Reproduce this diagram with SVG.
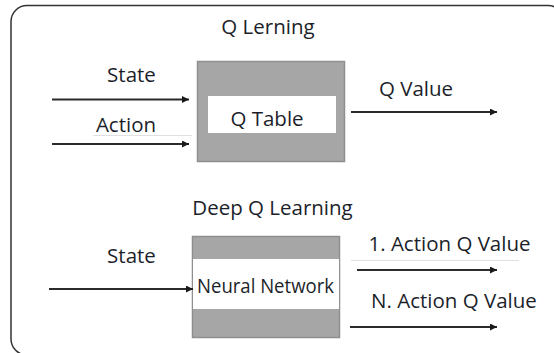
<svg xmlns="http://www.w3.org/2000/svg" width="554" height="353" viewBox="0 0 554 353">
  <style>
    .t { font-family: "Open Sans", "Liberation Sans", sans-serif; font-size: 20.5px; fill: #1c1f2a; text-anchor: middle; }
    .box { fill: #a6a6a6; stroke: #8f8f8f; stroke-width: 1.5; }
    .inner { fill: #ffffff; }
    .conn { stroke: #2b2b2b; stroke-width: 2; fill: none; marker-end: url(#ah); }
    .faint { stroke: #e0e0e0; stroke-width: 1; }
  </style>
  <defs>
    <marker id="ah" viewBox="0 0 10 10" refX="10" refY="5" markerWidth="10" markerHeight="7" markerUnits="userSpaceOnUse" orient="auto">
      <path d="M0,0 L10,5 L0,10 Z" fill="#1a1a1a"/>
    </marker>
  </defs>
  <rect width="554" height="353" fill="#ffffff"/>
  <rect x="11" y="5.5" width="553" height="349.5" rx="16" fill="none" stroke="#333333" stroke-width="1.5"/>

  <g id="q-learning">
    <text class="t" x="268" y="34">Q Lerning</text>
    <rect class="box" x="197.5" y="61.5" width="147" height="100"/>
    <rect class="inner" x="208" y="96" width="128" height="37"/>
    <text class="t" x="267" y="126">Q Table</text>
  </g>

  <g id="deep-q-learning">
    <text class="t" x="272.5" y="215">Deep Q Learning</text>
    <rect class="box" x="192.5" y="236.5" width="147" height="101"/>
    <rect class="inner" x="193" y="259" width="146" height="50"/>
    <text class="t" x="265.5" y="293" textLength="137" lengthAdjust="spacingAndGlyphs">Neural Network</text>
  </g>

  <g id="connectors">
    <line class="faint" x1="93" y1="135.5" x2="192" y2="135.5"/>
    <line class="faint" x1="351" y1="260.5" x2="519" y2="260.5"/>
    <line class="conn" x1="52" y1="99.5" x2="189" y2="99.5"/>
    <line class="conn" x1="52" y1="144" x2="189" y2="144"/>
    <line class="conn" x1="351" y1="112" x2="497" y2="112"/>
    <line class="conn" x1="49" y1="289" x2="193" y2="289"/>
    <line class="conn" x1="357" y1="270" x2="497" y2="270"/>
    <line class="conn" x1="350" y1="327" x2="497" y2="327"/>
    <text class="t" x="131.5" y="82">State</text>
    <text class="t" x="126" y="132">Action</text>
    <text class="t" x="416" y="96">Q Value</text>
    <text class="t" x="131.5" y="263">State</text>
    <text class="t" x="449.5" y="251">1. Action Q Value</text>
    <text class="t" x="454" y="308">N. Action Q Value</text>
  </g>
</svg>
